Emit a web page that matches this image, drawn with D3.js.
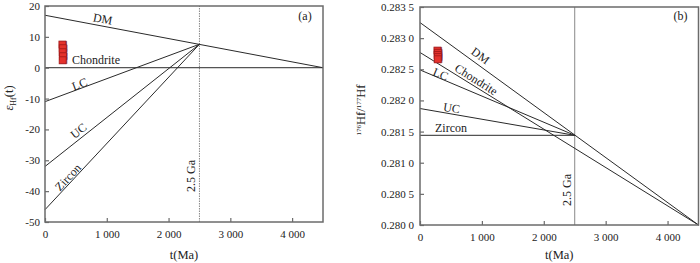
<!DOCTYPE html>
<html><head><meta charset="utf-8">
<script src="https://cdn.jsdelivr.net/npm/d3@7"></script>
<style>
html,body{margin:0;padding:0;background:#fff;}
svg{display:block;}
svg text{font-family:"Liberation Serif","Times New Roman",serif;}
</style></head>
<body><svg id="c" width="700" height="263"></svg>
<script>
// ---- data ----
const xTicks = [0, 1000, 2000, 3000, 4000];
const epsTicks = [20, 10, 0, -10, -20, -30, -40, -50];
const hfTicks = [0.2800, 0.2805, 0.2810, 0.2815, 0.2820, 0.2825, 0.2830, 0.2835];
const seriesNames = ["DM", "Chondrite", "LC", "UC", "Zircon"];
const epsT = [[0, 4500], [0, 4500], [0, 2500], [0, 2500], [0, 2500]];
const epsV = [[17, 0], [0, 0], [-11, 7.6], [-32, 7.6], [-46, 7.6]];
const hfT = [[0, 4500], [0, 4500], [0, 2500], [0, 2500], [0, 2500]];
const hfV = [[0.28325, 0.2800], [0.28277, 0.2800], [0.28249, 0.28144], [0.28187, 0.28144], [0.28144, 0.28144]];
const sampleT = [282, 288, 285, 290, 286];
const sampleEps = [7.5, 6.3, 5.0, 3.7, 2.4];
const sampleHf = [0.28280, 0.282765, 0.28273, 0.282695, 0.28266];
const markerAge = 2500;

// ---- drawing ----
const svg = d3.select("#c");
const lineCol = "#2a2a2a", frameCol = "#6b6b6b";
const FF = "Liberation Serif, Times New Roman, serif";

function panel(cfg) {
  const g = svg.append("g").attr("font-family", FF);
  const {x, y} = cfg;
  const [x0, x1] = x.range(), [y0, y1] = y.range();
  // 2.5 Ga marker
  g.append("line").attr("x1", x(markerAge)).attr("x2", x(markerAge))
    .attr("y1", y0).attr("y2", y1).attr("stroke", "#888").attr("stroke-width", 1)
    .attr("stroke-dasharray", cfg.dash);
  g.append("text").attr("transform", `translate(${x(markerAge) - 4},${cfg.gaY}) rotate(-90)`)
    .attr("text-anchor", "middle").attr("font-size", 12).attr("fill", "#222")
    .attr("font-family", FF).text("2.5 Ga");
  // series lines
  seriesNames.forEach((n, i) => {
    const pts = cfg.T[i].map((t, j) => [x(t), y(cfg.V[i][j])]);
    g.append("path").attr("d", d3.line()(pts)).attr("fill", "none")
      .attr("stroke", lineCol).attr("stroke-width", 1);
  });
  // labels
  cfg.labels.forEach(l => {
    g.append("text").attr("transform", `translate(${l[1]},${l[2]}) rotate(${l[3]})`)
      .attr("text-anchor", l[4] || "middle").attr("font-size", 12).attr("fill", "#222")
      .attr("font-family", FF).text(l[0]);
  });
  // samples
  cfg.sV.forEach((v, i) => {
    g.append("rect").attr("x", x(sampleT[i]) - 3.5 + 1.2).attr("y", y(v) - 3.5)
      .attr("width", 7).attr("height", 7).attr("fill", "#7a6ab0").attr("stroke", "none");
  });
  cfg.sV.forEach((v, i) => {
    g.append("rect").attr("x", x(sampleT[i]) - 3.5).attr("y", y(v) - 3.5)
      .attr("width", 7).attr("height", 7).attr("fill", "#e4312c")
      .attr("stroke", "#a01818").attr("stroke-width", 0.8);
  });
  // axes
  const ax = g.append("g").attr("transform", `translate(0,${y0})`)
    .call(d3.axisBottom(x).tickValues(xTicks).tickSize(-4).tickPadding(8)
      .tickFormat(d => d === 0 ? "0" : d3.format(",")(d).replace(",", " ")));
  const ay = g.append("g").attr("transform", `translate(${x0},0)`)
    .call(d3.axisLeft(y).tickValues(cfg.yTicks).tickSize(-4).tickPadding(cfg.yPad)
      .tickFormat(cfg.yFmt));
  [ax, ay].forEach(a => {
    a.attr("font-family", FF);
    a.select(".domain").remove();
    a.selectAll("line").attr("stroke", frameCol).attr("stroke-width", 1.2);
    a.selectAll("text").attr("font-size", 11).attr("fill", "#222").attr("font-family", FF);
  });
  // frame
  g.append("rect").attr("x", x0).attr("y", y1).attr("width", x1 - x0).attr("height", y0 - y1)
    .attr("fill", "none").attr("stroke", frameCol).attr("stroke-width", 1.5);
  g.append("text").attr("x", x1 - 18).attr("y", 20).attr("font-size", 12)
    .attr("text-anchor", "middle").attr("fill", "#222").attr("font-family", FF).text(cfg.tag);
  g.append("text").attr("x", (x0 + x1) / 2).attr("y", 259).attr("font-size", 12.5)
    .attr("text-anchor", "middle").attr("fill", "#222").attr("font-family", FF).text("t(Ma)");
  return g;
}

const xA = d3.scaleLinear([0, 4500], [45, 323]);
const yA = d3.scaleLinear([-50, 20], [222, 6]);
const gA = panel({
  x: xA, y: yA, T: epsT, V: epsV, sV: sampleEps, yTicks: epsTicks, yPad: 5,
  yFmt: d => String(d).replace("\u2212", "-"), dash: "1.5,1", gaY: 176, tag: "(a)",
  labels: [["DM", 102, 23, 10.7], ["Chondrite", 72, 64, 0, "start"], ["LC", 81, 88, -20.5],
           ["UC", 81, 134, -38], ["Zircon", 71, 180, -47]]
});
const yLabA = gA.append("text").attr("transform", "translate(13,98) rotate(-90)")
  .attr("text-anchor", "middle").attr("font-size", 12.5).attr("fill", "#222").attr("font-family", FF);
yLabA.append("tspan").attr("font-style", "italic").text("\u03b5");
yLabA.append("tspan").attr("font-size", 8).attr("dy", 3).text("Hf");
yLabA.append("tspan").attr("dy", -3).text("(t)");

const xB = d3.scaleLinear([0, 4500], [420, 698.5]);
const yB = d3.scaleLinear([0.2800, 0.2835], [225, 7]);
const gB = panel({
  x: xB, y: yB, T: hfT, V: hfV, sV: sampleHf, yTicks: hfTicks, yPad: 6,
  yFmt: d => { const s = d3.format(".4f")(d); return s.slice(0, 5) + " " + s.slice(5); },
  dash: null, gaY: 190, tag: "(b)",
  labels: [["DM", 478, 59, 36], ["Chondrite", 474, 83, 32], ["LC", 439, 78, 22.5],
           ["UC", 451, 112, 9.5], ["Zircon", 435, 132, 0, "start"]]
});
const yLabB = gB.append("text").attr("transform", "translate(365,110) rotate(-90)")
  .attr("text-anchor", "middle").attr("font-size", 12.5).attr("fill", "#222").attr("font-family", FF);
yLabB.append("tspan").attr("font-size", 7).attr("dy", -4).text("176");
yLabB.append("tspan").attr("dy", 4).text("Hf/");
yLabB.append("tspan").attr("font-size", 7).attr("dy", -4).text("177");
yLabB.append("tspan").attr("dy", 4).text("Hf");
</script></body></html>
